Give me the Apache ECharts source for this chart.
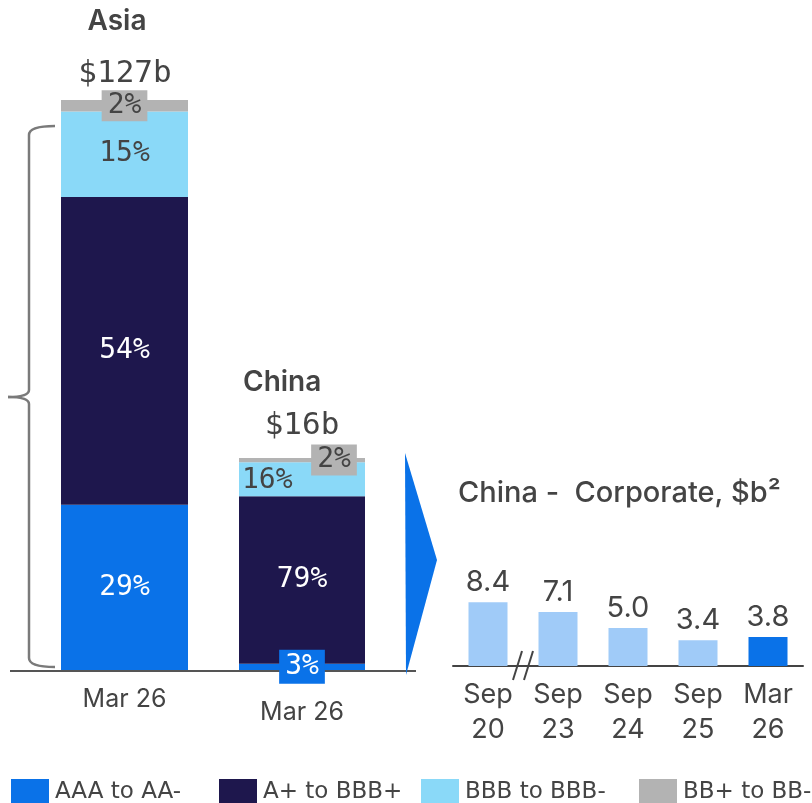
<!DOCTYPE html>
<html>
<head>
<meta charset="utf-8">
<script src="https://cdn.jsdelivr.net/npm/echarts@6/dist/echarts.min.js"></script>
<style>
html,body{margin:0;padding:0;background:#fff;}
#chart{width:812px;height:803px;}
</style>
</head>
<body>
<div id="chart"></div>
<script>
// ---- Data ----
const ratings = ['AAA to AA-', 'A+ to BBB+', 'BBB to BBB-', 'BB+ to BB-'];
const ratingColors = ['#0a72e8', '#1e174d', '#8ad9f8', '#b3b3b3'];
const asiaShares = [29, 54, 15, 2];
const chinaShares = [3, 79, 16, 2];
const asiaTitle = 'Asia';
const asiaTotal = '$127b';
const chinaTitle = 'China';
const chinaTotal = '$16b';
const snapshotCat = ['Mar 26'];
const corpTitle = 'China -  Corporate, $b²';
const corpCats = ['Sep\n20', 'Sep\n23', 'Sep\n24', 'Sep\n25', 'Mar\n26'];
const corpValues = [8.4, 7.1, 5.0, 3.4, 3.8];

const TXT = '#444444';
const MONO = '"DejaVu Sans Mono", monospace';
const SANS = 'Inter, "Noto Sans", sans-serif';

const chart = echarts.init(document.getElementById('chart'), null, {renderer: 'canvas'});

const pctLabel = (color, extra) => Object.assign({
  show: true, position: 'inside', color: color, fontFamily: MONO, fontSize: 28,
  formatter: p => p.value + '%'
}, extra || {});

const asiaLabels = [
  pctLabel('#fff'),
  pctLabel('#fff'),
  pctLabel(TXT),
  pctLabel(TXT, {backgroundColor: '#b3b3b3', padding: [2, 6, 1, 6]})
];
const chinaLabels = [
  pctLabel('#fff', {backgroundColor: '#0a72e8', padding: [3, 6, 3, 6]}),
  pctLabel('#fff'),
  pctLabel(TXT, {position: 'insideLeft', distance: 3, offset: [0, 2]}),
  pctLabel(TXT, {backgroundColor: '#b3b3b3', padding: [2, 6, 1, 6], offset: [32, 0]})
];

const series = [];
ratings.forEach((r, i) => {
  series.push({
    name: r, type: 'bar', stack: 'asia', xAxisIndex: 0, yAxisIndex: 0,
    barWidth: '100%', itemStyle: {color: ratingColors[i]},
    label: asiaLabels[i], data: [asiaShares[i]], z: 2
  });
});
ratings.forEach((r, i) => {
  series.push({
    name: r, type: 'bar', stack: 'china', xAxisIndex: 1, yAxisIndex: 1,
    barWidth: '100%', itemStyle: {color: ratingColors[i]},
    label: chinaLabels[i], data: [chinaShares[i]], z: 2
  });
});
series.push({
  name: 'China Corporate', type: 'bar', xAxisIndex: 2, yAxisIndex: 2,
  barWidth: 39,
  data: corpValues.map((v, i) => ({
    value: v,
    itemStyle: {color: i === corpValues.length - 1 ? '#0a72e8' : '#a0cbf8'}
  })),
  label: {show: true, position: 'top', distance: 5, color: TXT, fontFamily: SANS, fontSize: 29,
    formatter: p => p.value.toFixed(1)}
});

const legendPos = [6, 214, 416, 634];
const legends = ratings.map((r, i) => ({
  data: [r], left: legendPos[i], top: 774, itemWidth: 38, itemHeight: 27, itemGap: 0,
  icon: 'rect', selectedMode: false,
  textStyle: {color: TXT, fontSize: 23, fontFamily: '"DejaVu Sans", sans-serif', padding: [0, 0, 0, 1]}
}));

const hiddenY = (max) => ({type: 'value', min: 0, max: max, show: false});

const BR = {stroke: '#7a7a7a', lineWidth: 2.5, fill: null};
const bx = 29, tipX = 8, tipY = 397, topY = 126, botY = 667, endX = 55;

chart.setOption({
  animation: false,
  color: ratingColors,
  legend: legends,
  grid: [
    {left: 61, top: 100, width: 127, height: 570},
    {left: 239, top: 458, width: 126, height: 212},
    {left: 453, top: 590, width: 350, height: 76}
  ],
  xAxis: [
    {type: 'category', gridIndex: 0, data: snapshotCat, axisLine: {show: false}, axisTick: {show: false},
      axisLabel: {margin: 17, color: TXT, fontSize: 25, fontFamily: SANS}},
    {type: 'category', gridIndex: 1, data: snapshotCat, axisLine: {show: false}, axisTick: {show: false},
      axisLabel: {margin: 30, color: TXT, fontSize: 25, fontFamily: SANS}},
    {type: 'category', gridIndex: 2, data: corpCats, axisLine: {show: true, lineStyle: {color: '#444', width: 2}},
      axisTick: {show: false},
      axisLabel: {margin: 11, color: TXT, fontSize: 27, lineHeight: 35, fontFamily: SANS}}
  ],
  yAxis: [
    Object.assign(hiddenY(100), {gridIndex: 0}),
    Object.assign(hiddenY(100), {gridIndex: 1}),
    Object.assign(hiddenY(10), {gridIndex: 2})
  ],
  series: series,
  graphic: [
    {type: 'line', shape: {x1: 10, y1: 671, x2: 416, y2: 671}, style: {stroke: '#555', lineWidth: 2}, z: 0},
    // left brace
    {type: 'bezierCurve', shape: {x1: endX, y1: topY, cpx1: bx, cpy1: topY, x2: bx, y2: topY + 9}, style: BR},
    {type: 'line', shape: {x1: bx, y1: topY + 9, x2: bx, y2: tipY - 7}, style: BR},
    {type: 'bezierCurve', shape: {x1: bx, y1: tipY - 7, cpx1: bx, cpy1: tipY, x2: tipX, y2: tipY}, style: BR},
    {type: 'bezierCurve', shape: {x1: tipX, y1: tipY, cpx1: bx, cpy1: tipY, x2: bx, y2: tipY + 7}, style: BR},
    {type: 'line', shape: {x1: bx, y1: tipY + 7, x2: bx, y2: botY - 9}, style: BR},
    {type: 'bezierCurve', shape: {x1: bx, y1: botY - 9, cpx1: bx, cpy1: botY, x2: endX, y2: botY}, style: BR},
    {type: 'polygon', shape: {points: [[405, 453], [437, 560], [406, 675]]}, style: {fill: '#0a72e8'}},
    {type: 'text', x: 117, y: 22, style: {text: asiaTitle, fontSize: 28, fontWeight: 600, fill: TXT, fontFamily: SANS, align: 'center', verticalAlign: 'middle'}},
    {type: 'text', x: 125, y: 74, style: {text: asiaTotal, fontSize: 31, fill: TXT, fontFamily: MONO, align: 'center', verticalAlign: 'middle'}},
    {type: 'text', x: 243, y: 383, style: {text: chinaTitle, fontSize: 28, fontWeight: 600, fill: TXT, fontFamily: SANS, align: 'left', verticalAlign: 'middle'}},
    {type: 'text', x: 302, y: 426, style: {text: chinaTotal, fontSize: 31, fill: TXT, fontFamily: MONO, align: 'center', verticalAlign: 'middle'}},
    {type: 'text', x: 458, y: 493, style: {text: corpTitle, fontSize: 29, fontWeight: 500, fill: TXT, fontFamily: SANS, align: 'left', verticalAlign: 'middle'}},
    {type: 'line', shape: {x1: 513, y1: 680, x2: 522, y2: 651}, style: {stroke: '#444', lineWidth: 2}},
    {type: 'line', shape: {x1: 524, y1: 680, x2: 533, y2: 651}, style: {stroke: '#444', lineWidth: 2}}
  ]
});
</script>
</body>
</html>
